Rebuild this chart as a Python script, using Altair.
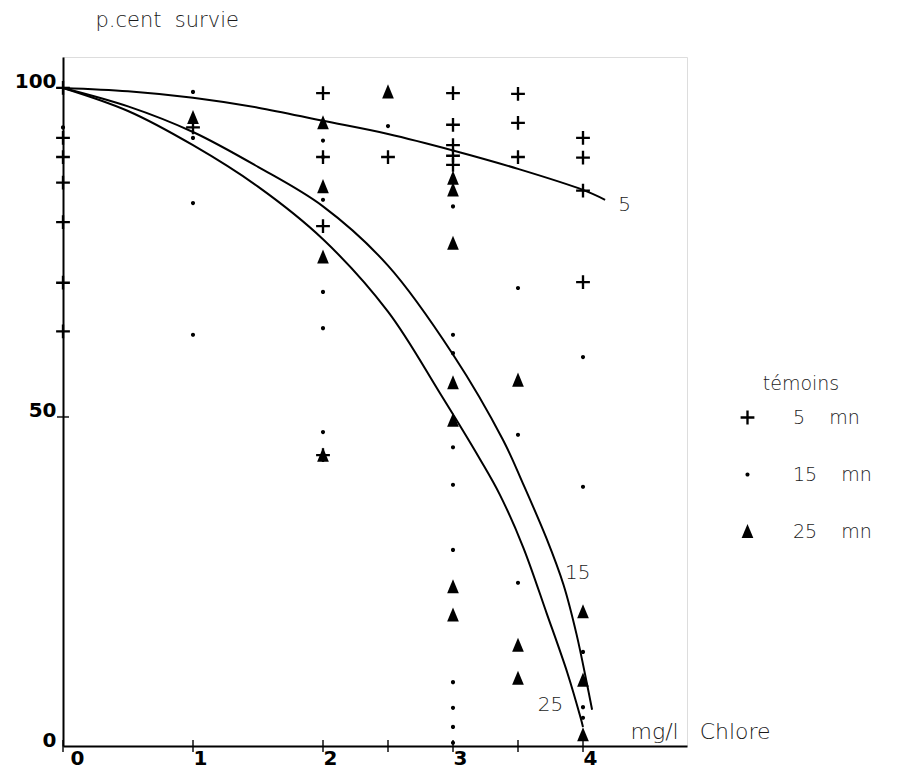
import altair as alt
import pandas as pd

# ---- data ----
cross_x = [0, 0, 0, 0, 0, 0, 0, 1, 2, 2, 2, 2, 2.5, 3, 3, 3, 3, 3, 3.5, 3.5, 3.5, 4, 4, 4, 4]
cross_y = [100, 92.4, 89.5, 85.6, 79.6, 70.4, 63, 94, 99.2, 89.5, 79, 44.2, 89.5,
           99.2, 94.4, 91.3, 89.7, 88.3, 99.1, 94.7, 89.5, 92.4, 89.4, 84.4, 70.5]

dot_x = [0, 1, 1, 1, 1, 2, 2, 2, 2, 2, 2, 2.5,
         3, 3, 3, 3, 3, 3, 3, 3, 3, 3, 3.5, 3.5, 3.5, 4, 4, 4, 4, 4]
dot_y = [94, 99.4, 92.4, 82.5, 62.5, 92, 89.5, 83, 69, 63.5, 47.7, 94.2,
         82, 62.5, 59.7, 45.4, 39.7, 29.8, 9.7, 5.8, 2.9, 0.5, 69.6, 47.3, 24.8,
         59.1, 39.4, 14.3, 5.9, 4.3]

tri_x = [1, 2, 2, 2, 2, 2.5, 3, 3, 3, 3, 3, 3, 3, 3.5, 3.5, 3.5, 4, 4, 4]
tri_y = [95.5, 94.7, 85, 74.3, 44.2, 99.4, 86.3, 84.5, 76.4, 55.2, 49.5, 24.2, 19.9,
         55.6, 15.3, 10.3, 20.4, 10, 1.7]

NB = "\u00a0"
series_names = [NB * 2 + "5" + NB * 4 + "mn", "15" + NB * 4 + "mn", "25" + NB * 4 + "mn"]

c5_x = [0, 0.5, 1, 1.5, 2, 2.5, 3, 3.5, 4, 4.17]
c5_y = [100, 99.5, 98.5, 97, 95, 93, 90.5, 87.7, 84.5, 83]
c15_x = [0, 0.5, 1, 1.5, 2, 2.5, 3, 3.385, 3.54, 3.72, 3.85, 3.95, 4.03, 4.07]
c15_y = [100, 97.2, 93.3, 88, 82, 73, 59.5, 46.5, 39.8, 31.5, 24.5, 17, 9.5, 5.5]
c25_x = [0, 0.5, 1, 1.5, 2, 2.5, 2.9, 3.21, 3.36, 3.54, 3.72, 3.88, 3.98, 4.0]
c25_y = [100, 96.5, 91.3, 85, 77, 66, 53.6, 43.5, 38.2, 30.2, 20.2, 11.1, 4.4, 2.9]

curve_labels = ["5", "15", "25"]
curve_label_x = [4.32, 3.96, 3.75]
curve_label_y = [82.2, 26.3, 6.2]

xtick_vals = [0, 1, 2, 2.5, 3, 3.5, 4]
ytick_vals = [50, 100]

# ---- tables ----
pts = pd.DataFrame({
    "x": cross_x + dot_x + tri_x,
    "y": cross_y + dot_y + tri_y,
    "s": [series_names[0]] * len(cross_x) + [series_names[1]] * len(dot_x) + [series_names[2]] * len(tri_x),
})
curves = pd.DataFrame({
    "x": c5_x + c15_x + c25_x,
    "y": c5_y + c15_y + c25_y,
    "c": ["5"] * len(c5_x) + ["15"] * len(c15_x) + ["25"] * len(c25_x),
})
labels = pd.DataFrame({"x": curve_label_x, "y": curve_label_y, "t": curve_labels})
xticks = pd.DataFrame({"x": xtick_vals, "y": [0] * len(xtick_vals)})
yticks = pd.DataFrame({"x": [0] * len(ytick_vals), "y": ytick_vals})

BOLD = "DejaVu Sans"
LIGHT = "DejaVu Sans"
TXT = "#1a1a1a"
xscale = alt.Scale(domain=[0, 4.8], nice=False, zero=False)
yscale = alt.Scale(domain=[0, 104.7], nice=False, zero=False)

xaxis = alt.Axis(values=[0, 1, 2, 3, 4], format=".0f", ticks=False, grid=False, domainColor="black",
                 domainWidth=2, labelFont=BOLD, labelFontWeight="bold", labelFontSize=20,
                 labelColor="black", labelOffset=7, labelPadding=2,
                 title="mg/l" + NB * 3 + "Chlore",
                 titleFont=LIGHT, titleFontWeight=300, titleFontSize=22, titleColor=TXT,
                 titleX=567, titleY=-3, titleAlign="left", titleBaseline="bottom", titleAnchor="start")
yaxis = alt.Axis(values=[0, 50, 100], format=".0f", ticks=False, grid=False, domainColor="black",
                 domainWidth=2, labelFont=BOLD, labelFontWeight="bold", labelFontSize=20,
                 labelColor="black", labelBaseline="alphabetic", labelPadding=7,
                 title="p.cent" + NB * 2 + "survie", titleFont=LIGHT, titleFontWeight=300,
                 titleFontSize=21, titleColor=TXT, titleAngle=0, titleX=32, titleY=-37,
                 titleAlign="left", titleBaseline="middle", titleAnchor="start")

cross_path = ("M-0.17,-1L0.17,-1L0.17,-0.17L1,-0.17L1,0.17L0.17,0.17L0.17,1L-0.17,1"
              "L-0.17,0.17L-1,0.17L-1,-0.17L-0.17,-0.17Z")
dot_path = "M-0.3,0A0.3,0.3 0 1,0 0.3,0A0.3,0.3 0 1,0 -0.3,0Z"
tri_path = "M0,-1.1L0.85,0.95L-0.85,0.95Z"

points = alt.Chart(pts).mark_point(filled=True, color="black", opacity=1, strokeWidth=0,
                                   size=190).encode(
    x=alt.X("x:Q", scale=xscale, axis=xaxis),
    y=alt.Y("y:Q", scale=yscale, axis=yaxis),
    shape=alt.Shape("s:N", scale=alt.Scale(domain=series_names,
                                            range=[cross_path, dot_path, tri_path]),
                    legend=alt.Legend(title="témoins", orient="none", legendX=667,
                                      legendY=318, titleAnchor="middle",
                                      titleFont=LIGHT, titleFontWeight=300, titleFontSize=19,
                                      titleColor=TXT, titlePadding=14,
                                      labelFont=LIGHT, labelFontWeight=300, labelFontSize=19,
                                      labelColor=TXT, symbolSize=190,
                                      labelOffset=36, rowPadding=37, symbolFillColor="black",
                                      symbolStrokeWidth=0, symbolOffset=8)),
)

lines = alt.Chart(curves).mark_line(color="black", strokeWidth=2,
                                    interpolate="catmull-rom").encode(
    x="x:Q", y="y:Q", detail="c:N")

texts = alt.Chart(labels).mark_text(font=LIGHT, fontWeight=300, fontSize=20, color=TXT,
                                    align="center", baseline="middle").encode(
    x="x:Q", y="y:Q", text="t:N")

xt = alt.Chart(xticks).mark_tick(orient="vertical", size=12, thickness=2, color="black").encode(
    x="x:Q", y="y:Q")
yt = alt.Chart(yticks).mark_tick(orient="horizontal", size=12, thickness=2, color="black").encode(
    x="x:Q", y="y:Q")

chart = alt.layer(lines, xt, yt, points, texts).properties(
    width=624, height=689,
    autosize=alt.AutoSizeParams(type="none"),
    padding={"left": 55, "top": 49, "right": 220, "bottom": 26},
).configure_view(stroke=None).configure(background="white")

chart.save("out.html", embed_options={"renderer": "svg", "actions": False})
